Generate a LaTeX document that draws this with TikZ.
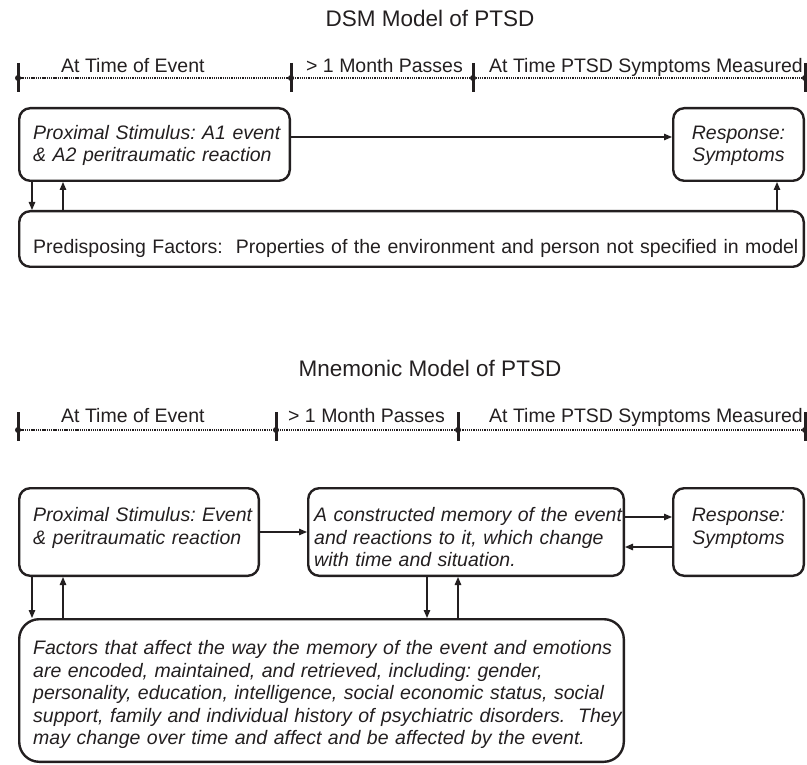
\documentclass[tikz,border=0pt]{standalone}
\usepackage{fontspec}
\setmainfont{Liberation Sans}
\usetikzlibrary{arrows.meta,calc}
\definecolor{ink}{RGB}{35,31,32}
\tikzset{
  rbox/.style={draw=ink, line width=2.4pt, rounded corners=11pt, inner sep=0pt, anchor=north west},
  bigbox/.style={rbox, rounded corners=20pt},
  ltxt/.style={font=\fontsize{19.5}{22.5}\selectfont\frenchspacing, text=ink, inner sep=0pt, text width=800pt, align=left, anchor=base west},
  ctxt/.style={font=\fontsize{19.5}{22.5}\selectfont\frenchspacing, text=ink, inner sep=0pt, text width=130pt, align=center, anchor=base},
  lab/.style={font=\fontsize{19.5}{22.5}\selectfont, text=ink, inner sep=0pt, anchor=base west},
  ttl/.style={font=\fontsize{22.5}{26}\selectfont, text=ink, inner sep=0pt, anchor=base},
  arr/.style={draw=ink, line width=1.3pt, -{Triangle[length=8pt,width=6.5pt]}},
  dotline/.style={draw=ink, line width=1.7pt, dash pattern=on 1.3pt off 0.9pt},
  tickmark/.style={draw=ink, line width=3pt}
}
\begin{document}
\begin{tikzpicture}[x=1pt,y=-1pt]
\useasboundingbox (0,0) rectangle (807,765);

% ================= DSM model =================
\node[ttl] (t1) at (430,27) {DSM Model of PTSD};

\foreach \n/\x in {a/18,b/291,c/473,d/805} \coordinate (ta\n) at (\x,78);
\draw[dotline] (taa) -- (tad);
\foreach \n in {a,b,c,d} {
  \draw[tickmark] ($(ta\n)+(0,-15)$) -- ($(ta\n)+(0,14)$);
  \fill[ink] (ta\n) circle (3pt);
}
\node[lab] (l1a) at (61,73) {At Time of Event};
\node[lab] (l1b) at (306,73) {> 1 Month Passes};
\node[lab] (l1c) at (489,73) {At Time PTSD Symptoms Measured};

\node[rbox, minimum width=270.6pt, minimum height=72.6pt] (dprox) at (18,107) {};
\node[ltxt] (dproxt) at (33,139.5) {\itshape Proximal Stimulus: A1 event\\ \& A2 peritraumatic reaction};

\node[rbox, minimum width=130.6pt, minimum height=72.6pt] (dresp) at (672,107) {};
\node[ctxt] (drespt) at (738.5,139.5) {\itshape Response:\\ Symptoms};

\node[rbox, minimum width=784.6pt, minimum height=55.6pt] (dpred) at (18,210) {};
\node[ltxt] (dpredt) at (33,254) {Predisposing Factors:\ \ Properties of the environment and person not specified in model};

\coordinate (h1) at (0,137);
\draw[arr] (dprox.east |- h1) -- (dresp.west |- h1);
\coordinate (d1) at ($(dprox.south west)+(14,0)$);
\coordinate (d2) at ($(dprox.south west)+(45,0)$);
\coordinate (d3) at ($(dresp.south west)+(105,0)$);
\draw[arr] (d1) -- (d1 |- dpred.north);
\draw[arr] (d2 |- dpred.north) -- (d2);
\draw[arr] (d3 |- dpred.north) -- (d3);

% ================= Mnemonic model =================
\node[ttl] (t2) at (430,376) {Mnemonic Model of PTSD};

\foreach \n/\x in {a/18,b/276,c/458,d/805} \coordinate (tb\n) at (\x,430);
\draw[dotline] (tba) -- (tbd);
\foreach \n in {a,b,c,d} {
  \draw[tickmark] ($(tb\n)+(0,-18)$) -- ($(tb\n)+(0,11)$);
  \fill[ink] (tb\n) circle (3pt);
}
\node[lab] (l2a) at (61,422) {At Time of Event};
\node[lab] (l2b) at (288,422) {> 1 Month Passes};
\node[lab] (l2c) at (489,422) {At Time PTSD Symptoms Measured};

\node[rbox, minimum width=239.6pt, minimum height=87.6pt] (mprox) at (18,487) {};
\node[ltxt] (mproxt) at (33,521.5) {\itshape Proximal Stimulus: Event\\ \& peritraumatic reaction};

\node[rbox, minimum width=315.6pt, minimum height=87.6pt] (mmem) at (307,487) {};
\node[ltxt] (mmemt) at (314,521.5) {\itshape A constructed memory of the event\\ and reactions to it, which change\\ with time and situation.};

\node[rbox, minimum width=130.6pt, minimum height=87.6pt] (mresp) at (672,487) {};
\node[ctxt] (mrespt) at (738.5,521.5) {\itshape Response:\\ Symptoms};

\node[bigbox, minimum width=604.6pt, minimum height=142.6pt] (mfac) at (18,618) {};
\node[ltxt] (mfact) at (33,654.5) {\itshape Factors that affect the way the memory of the event and emotions\\ are encoded, maintained, and retrieved, including: gender,\\ personality, education, intelligence, social economic status, social\\ support, family and individual history of psychiatric disorders.\ \ They\\ may change over time and affect and be affected by the event.};

\coordinate (h2) at (0,532);
\coordinate (h3) at (0,517);
\coordinate (h4) at (0,547);
\draw[arr] (mprox.east |- h2) -- (mmem.west |- h2);
\draw[arr] (mmem.east |- h3) -- (mresp.west |- h3);
\draw[arr] (mresp.west |- h4) -- (mmem.east |- h4);

\coordinate (e1) at ($(mprox.south west)+(14,0)$);
\coordinate (e2) at ($(mprox.south west)+(45,0)$);
\coordinate (e3) at ($(mmem.south west)+(120,0)$);
\coordinate (e4) at ($(mmem.south west)+(151,0)$);
\draw[arr] (e1) -- (e1 |- mfac.north);
\draw[arr] (e2 |- mfac.north) -- (e2);
\draw[arr] (e3) -- (e3 |- mfac.north);
\draw[arr] (e4 |- mfac.north) -- (e4);
\end{tikzpicture}
\end{document}
